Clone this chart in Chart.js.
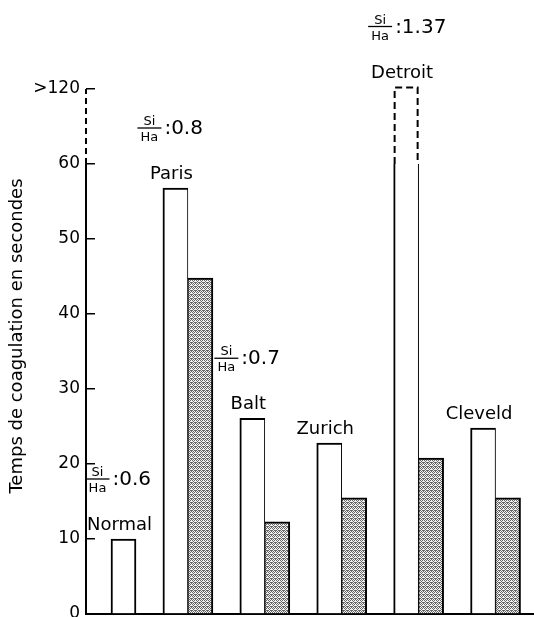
<!DOCTYPE html>
<html>
<head>
<meta charset="utf-8">
<script src="https://cdn.jsdelivr.net/npm/chart.js@4"></script>
<style>
  html, body { margin: 0; padding: 0; background: #fff; }
  #wrap { width: 534px; height: 617px; }
</style>
</head>
<body>
<div id="wrap"><canvas id="chart"></canvas></div>
<script>
// Coagulation times (seconds) per plasma origin
const categories = ['Normal', 'Paris', 'Balt', 'Zurich', 'Detroit', 'Cleveld'];
const plainValues = [10, 56.8, 26.1, 22.8, 122, 24.8];
const stippledValues = [null, 44.8, 12.3, 15.5, 20.8, 15.5];
const siHaRatios = [0.6, 0.8, 0.7, null, 1.37, null];

// y axis is broken above 60: the 60..120 range is squeezed into one step of 10
const axisBreak = 60;
const breakTop = 120;
const tickValues = [0, 10, 20, 30, 40, 50, 60, 120];

const FONT = '"DejaVu Sans", sans-serif';

function toAxis(v) {
  if (v == null) return null;
  if (v <= axisBreak) return v;
  return axisBreak + (v - axisBreak) * 10 / (breakTop - axisBreak);
}

function tickLabel(value) {
  const t = tickValues.find(tv => Math.abs(toAxis(tv) - value) < 1e-6);
  if (t === undefined) return '';
  return t === breakTop ? '>' + t : String(t);
}

// dotted grey fill of the second series
function makeStipple() {
  const c = document.createElement('canvas');
  c.width = 4;
  c.height = 4;
  const g = c.getContext('2d');
  g.fillStyle = '#f2f2f2';
  g.fillRect(0, 0, 4, 4);
  g.fillStyle = '#666';
  const dots = [[0, 0], [2, 0], [1, 1], [3, 2], [0, 2], [2, 2], [1, 3], [3, 3]];
  dots.forEach(([xx, yy]) => g.fillRect(xx, yy, 1, 1));
  return g.createPattern(c, 'repeat');
}

// Left/right slot of each pair. A category with only a plain bar
// (Normal) sits in the right slot, as in the original figure.
const alone = categories.map((c, i) => stippledValues[i] == null);
const leftSlot = categories.map((c, i) => ({ x: i, y: alone[i] ? null : toAxis(plainValues[i]) }));
const rightSlot = categories.map((c, i) => ({ x: i, y: toAxis(alone[i] ? plainValues[i] : stippledValues[i]) }));

function plainBar(chart, i) {
  const meta = chart.getDatasetMeta(alone[i] ? 1 : 0);
  return meta.data[i];
}

function noPadding(scale) {
  scale.paddingTop = 0;
  scale.paddingBottom = 0;
  scale.paddingLeft = 0;
  scale.paddingRight = 0;
}

const annotationsPlugin = {
  id: 'annotations',
  afterDatasetsDraw(chart) {
    const { ctx, chartArea, scales: { y } } = chart;
    ctx.save();

    // broken bars: dashed outline above the break
    categories.forEach((c, i) => {
      if (plainValues[i] <= axisBreak) return;
      const bar = plainBar(chart, i);
      const yb = y.getPixelForValue(axisBreak);
      const xl = bar.x - bar.width / 2;
      const xr = bar.x + bar.width / 2;
      ctx.fillStyle = '#fff';
      ctx.fillRect(xl - 1, bar.y - 2, bar.width + 2, yb - bar.y + 2);
      ctx.strokeStyle = '#000';
      ctx.lineWidth = 2;
      ctx.setLineDash([7, 4]);
      ctx.beginPath();
      ctx.moveTo(xl + 1, yb);
      ctx.lineTo(xl + 1, bar.y + 1);
      ctx.lineTo(xr - 1, bar.y + 1);
      ctx.lineTo(xr - 1, yb);
      ctx.stroke();
      ctx.setLineDash([]);
    });

    // y axis line, dashed across the break
    const ax = chartArea.left;
    ctx.strokeStyle = '#000';
    ctx.lineWidth = 2;
    ctx.beginPath();
    ctx.moveTo(ax, y.getPixelForValue(0));
    ctx.lineTo(ax, y.getPixelForValue(axisBreak));
    ctx.stroke();
    ctx.setLineDash([6, 4]);
    ctx.beginPath();
    ctx.moveTo(ax, y.getPixelForValue(axisBreak));
    ctx.lineTo(ax, y.getPixelForValue(toAxis(breakTop)));
    ctx.stroke();
    ctx.setLineDash([]);

    // axis title
    ctx.fillStyle = '#000';
    ctx.save();
    ctx.translate(17, 336);
    ctx.rotate(-Math.PI / 2);
    ctx.font = '18px ' + FONT;
    ctx.textAlign = 'center';
    ctx.textBaseline = 'middle';
    ctx.fillText('Temps de coagulation en secondes', 0, 0);
    ctx.restore();

    // category names and Si/Ha ratios above the plain bars
    categories.forEach((name, i) => {
      const bar = plainBar(chart, i);
      const cx = bar.x - 4;
      const base = bar.y - 9;
      ctx.font = '18px ' + FONT;
      ctx.textAlign = 'center';
      ctx.textBaseline = 'alphabetic';
      ctx.fillText(name, cx, base);

      if (siHaRatios[i] == null) return;
      const fx = cx - 22;
      const fy = base - 51;
      ctx.font = '13px ' + FONT;
      ctx.fillText('Si', fx, fy - 3);
      ctx.fillText('Ha', fx, fy + 13);
      ctx.lineWidth = 1.3;
      ctx.beginPath();
      ctx.moveTo(fx - 12, fy);
      ctx.lineTo(fx + 12, fy);
      ctx.stroke();
      ctx.font = '20px ' + FONT;
      ctx.textAlign = 'left';
      ctx.textBaseline = 'middle';
      ctx.fillText(':' + siHaRatios[i], fx + 15, fy + 1);
    });

    ctx.restore();
  }
};

const ctx = document.getElementById('chart');
const stipple = makeStipple();

new Chart(ctx, {
  type: 'bar',
  data: {
    datasets: [
      {
        label: 'plain',
        data: leftSlot,
        backgroundColor: '#fff',
        borderColor: '#000',
        borderWidth: { top: 2, left: 2, right: 1, bottom: 0 },
        borderSkipped: false,
        barThickness: 25
      },
      {
        label: 'stippled',
        data: rightSlot,
        backgroundColor: c => alone[c.dataIndex] ? '#fff' : stipple,
        borderColor: '#000',
        borderWidth: c => alone[c.dataIndex]
          ? { top: 2, left: 2, right: 2, bottom: 0 }
          : { top: 2, left: 1, right: 2, bottom: 0 },
        borderSkipped: false,
        barThickness: 25
      }
    ]
  },
  options: {
    responsive: true,
    maintainAspectRatio: false,
    animation: false,
    devicePixelRatio: 1,
    layout: { padding: { left: 30, right: 0, top: 14, bottom: 3 } },
    plugins: {
      legend: { display: false },
      tooltip: { enabled: false }
    },
    scales: {
      x: {
        type: 'linear',
        min: -0.325,
        max: 5.5,
        offset: false,
        ticks: { display: false },
        grid: { display: false, offset: false },
        border: { display: true, color: '#000', width: 2 },
        afterFit: scale => { scale.height = 0; noPadding(scale); }
      },
      y: {
        min: 0,
        max: 80,
        afterBuildTicks: axis => {
          axis.ticks = tickValues.map(v => ({ value: toAxis(v) }));
        },
        afterFit: scale => { scale.width = 56; noPadding(scale); },
        ticks: {
          color: '#000',
          padding: 15,
          font: { family: FONT, size: 17 },
          callback: value => tickLabel(value)
        },
        grid: {
          drawOnChartArea: false,
          drawTicks: true,
          tickLength: -9,
          color: '#000',
          lineWidth: 1.5
        },
        border: { display: false }
      }
    }
  },
  plugins: [annotationsPlugin]
});
</script>
</body>
</html>
